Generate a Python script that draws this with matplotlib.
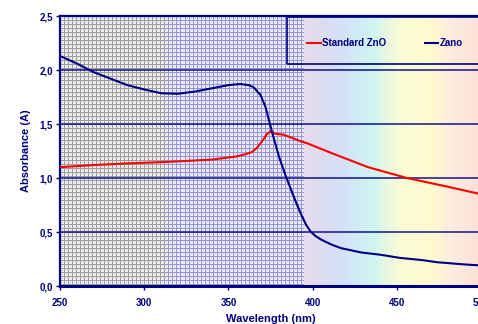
import matplotlib
matplotlib.use("Agg")
import matplotlib.pyplot as plt
import numpy as np
from matplotlib.colors import LinearSegmentedColormap
from matplotlib.patches import Rectangle

navy = "#000080"
plt.rcParams["font.family"] = ["Liberation Sans", "DejaVu Sans"]
plt.rcParams["font.weight"] = "bold"

# Zano curve
zano_wl = [250, 260, 270, 280, 290, 300, 310, 320, 330, 340, 350, 357, 362, 365, 369,
           372, 374, 376, 378, 380, 384, 387, 390, 393, 396, 399, 402, 405, 411, 417, 429,
           440, 452, 465, 474, 490, 500]
zano_abs = [2.13, 2.06, 1.98, 1.92, 1.86, 1.82, 1.785, 1.78, 1.80, 1.83, 1.86, 1.87, 1.86, 1.84, 1.77,
            1.66, 1.54, 1.42, 1.31, 1.20, 1.02, 0.90, 0.78, 0.67, 0.57, 0.50, 0.46, 0.43, 0.385, 0.35, 0.31,
            0.29, 0.26, 0.24, 0.22, 0.20, 0.19]

# Standard ZnO curve
std_wl = [250, 270, 290, 315, 340, 355, 360, 364, 367, 370, 373, 375, 378, 383, 393, 397, 413,
          433, 456, 480, 500]
std_abs = [1.10, 1.12, 1.135, 1.15, 1.17, 1.20, 1.22, 1.24, 1.28, 1.34, 1.41, 1.43, 1.41, 1.40, 1.34, 1.32,
           1.22, 1.10, 1.00, 0.92, 0.85]

x_ticks = [250, 300, 350, 400, 450, 500]
y_ticks = [0.0, 0.5, 1.0, 1.5, 2.0, 2.5]
y_labels = ["0,0", "0,5", "1,0", "1,5", "2,0", "2,5"]

fig = plt.figure(figsize=(4.78, 3.24), dpi=100)
ax = fig.add_axes([60 / 478, 38 / 324, 421 / 478, 270 / 324])
ax.set_xlim(250, 500)
ax.set_ylim(0, 2.5)

# background: mesh texture on the left, spectrum on the right
mesh_end = 394.6
h, w = 270, 243
ii, jj = np.mgrid[0:h, 0:w]
line = (ii % 4 == 0) | (jj % 4 == 0)
dot = (ii % 2 == 0) & (jj % 2 == 0)
mix = np.clip((jj - 100) / 15.0, 0, 1)[..., None]
grey_line = np.array([0.62, 0.62, 0.62])
grey_bg = np.array([0.93, 0.93, 0.93])
blue_line = np.array([0.58, 0.58, 0.85])
blue_bg = np.array([0.93, 0.93, 0.99])
lc = grey_line * (1 - mix) + blue_line * mix
bc = grey_bg * (1 - mix) + blue_bg * mix
img = np.where(line[..., None], lc, bc)
img = np.where((dot & ~line)[..., None], img * 0.92, img)
ax.imshow(img, extent=[250, mesh_end, 0, 2.5], aspect="auto", interpolation="nearest", zorder=0)

spec = LinearSegmentedColormap.from_list("spec", [
    (0.0, "#e8dcec"), (0.10, "#dcdcf0"), (0.21, "#d4e2f6"), (0.32, "#d0eef6"),
    (0.40, "#d0f6ee"), (0.46, "#e6f8e0"), (0.55, "#fafcd4"), (0.72, "#fffad0"),
    (0.83, "#fdece0"), (1.0, "#fde0d8")])
ax.imshow(np.linspace(0, 1, 256)[None, :], cmap=spec, extent=[mesh_end, 500, 0, 2.5],
          aspect="auto", zorder=0)

for yv in y_ticks[1:-1]:
    ax.axhline(yv, color=navy, lw=1.2, alpha=0.85, zorder=1)

ax.plot(std_wl, std_abs, color="#ff0000", lw=1.5, label="Standard ZnO", zorder=3)
ax.plot(zano_wl, zano_abs, color=navy, lw=1.5, label="Zano", zorder=3)

ax.set_xticks(x_ticks)
ax.set_yticks(y_ticks)
ax.set_yticklabels(y_labels)
ax.tick_params(colors=navy, labelsize=7, length=3, width=1)
ax.tick_params(axis="x", pad=6)
ax.tick_params(axis="y", pad=2)
for lab in ax.get_xticklabels() + ax.get_yticklabels():
    lab.set_fontweight("bold")
for s in ax.spines.values():
    s.set_color(navy)
    s.set_linewidth(1.6)
ax.spines["bottom"].set_linewidth(2.2)

ax.set_xlabel("Wavelength (nm)", color=navy, fontsize=8, fontweight="bold", labelpad=4)
ax.set_ylabel("Absorbance (A)", color=navy, fontsize=8, fontweight="bold", labelpad=6)

# legend box
ax.add_patch(Rectangle((0.539, 0.822), 0.6, 0.174, transform=ax.transAxes, fill=False,
                       edgecolor=navy, lw=1.2, clip_on=False, zorder=4))
ax.legend(loc="center left", bbox_to_anchor=(0.575, 0.9), ncol=2, frameon=False,
          borderpad=0, handlelength=1.4, handletextpad=0.2, columnspacing=3.9,
          labelcolor=navy, prop={"weight": "bold", "size": 7})

fig.savefig("out.png", dpi=100)
